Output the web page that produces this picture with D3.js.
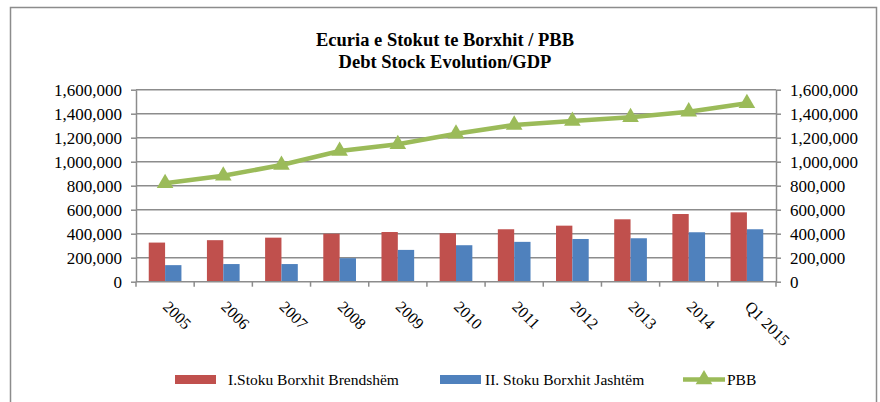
<!DOCTYPE html>
<html>
<head>
  <meta charset="UTF-8">
  <title>Debt Stock Evolution/GDP</title>
  <script src="https://d3js.org/d3.v7.min.js"></script>
  <style>
    body { margin: 0; background: #fff; }
    .grid line { stroke: #8c8c8c; stroke-width: 1.5; }
    .axis path, .axis line { stroke: #8c8c8c; stroke-width: 1.5; }
  </style>
</head>
<body>
  <svg id="chart" width="880" height="402"></svg>
  <script>
    const categories = ["2005", "2006", "2007", "2008", "2009", "2010", "2011", "2012", "2013", "2014", "Q1 2015"];
    const domestic = [326000, 346000, 367000, 400000, 414000, 404000, 437000, 467000, 520000, 564000, 578000];
    const external = [138000, 147000, 147000, 196000, 265000, 304000, 332000, 356000, 362000, 412000, 437000];
    const gdp = [820000, 883000, 972000, 1089000, 1145000, 1233000, 1306000, 1339000, 1370000, 1417000, 1487000];
    const yTicks = [0, 200000, 400000, 600000, 800000, 1000000, 1200000, 1400000, 1600000];

    const FONT = "'Liberation Serif', 'Times New Roman', Times, serif";
    const svg = d3.select("#chart");

    // outer frame
    svg.append("rect")
      .attr("x", 10.5).attr("y", 7.5)
      .attr("width", 866).attr("height", 420)
      .attr("fill", "none").attr("stroke", "#8c8c8c").attr("stroke-width", 1.5);

    const margin = { left: 136, right: 776, top: 89.7, bottom: 281.7 };

    const x = d3.scaleBand()
      .domain(categories)
      .range([margin.left, margin.right]);

    const x1 = d3.scaleBand()
      .domain(["dom", "ext"])
      .range([0, x.bandwidth()])
      .paddingInner(0)
      .paddingOuter(0.78);

    const y = d3.scaleLinear()
      .domain([0, 1600000])
      .range([margin.bottom, margin.top]);

    const fmt = d3.format(",");

    // gridlines
    svg.append("g").attr("class", "grid")
      .selectAll("line")
      .data(yTicks.slice(1))
      .join("line")
      .attr("x1", margin.left).attr("x2", margin.right)
      .attr("y1", d => y(d)).attr("y2", d => y(d));

    // left axis
    const yl = svg.append("g").attr("class", "axis")
      .attr("transform", `translate(${margin.left},0)`)
      .call(d3.axisLeft(y).tickValues(yTicks).tickFormat(fmt).tickSize(5).tickPadding(9).tickSizeOuter(0));

    // right axis
    const yr = svg.append("g").attr("class", "axis")
      .attr("transform", `translate(${margin.right},0)`)
      .call(d3.axisRight(y).tickValues(yTicks).tickFormat(fmt).tickSize(5).tickPadding(9).tickSizeOuter(0));

    [yl, yr].forEach(g => g.selectAll("text")
      .style("font-family", FONT).style("font-size", "17px").attr("fill", "#000"));

    // bars
    const groups = svg.append("g")
      .selectAll("g")
      .data(categories)
      .join("g")
      .attr("transform", d => `translate(${x(d)},0)`);

    groups.append("rect")
      .attr("x", x1("dom"))
      .attr("width", x1.bandwidth())
      .attr("y", (d, i) => y(domestic[i]))
      .attr("height", (d, i) => y(0) - y(domestic[i]))
      .attr("fill", "#C0504D");

    groups.append("rect")
      .attr("x", x1("ext"))
      .attr("width", x1.bandwidth())
      .attr("y", (d, i) => y(external[i]))
      .attr("height", (d, i) => y(0) - y(external[i]))
      .attr("fill", "#4F81BD");

    // x axis
    const xAxis = svg.append("g").attr("class", "axis")
      .attr("transform", `translate(0,${margin.bottom})`);
    xAxis.append("line")
      .attr("x1", margin.left).attr("x2", margin.right);
    xAxis.selectAll(".tk")
      .data(categories.concat(["end"]))
      .join("line")
      .attr("class", "tk")
      .attr("x1", (d, i) => margin.left + i * x.bandwidth())
      .attr("x2", (d, i) => margin.left + i * x.bandwidth())
      .attr("y1", 0).attr("y2", 5);
    xAxis.selectAll("text")
      .data(categories)
      .join("text")
      .attr("transform", d => `translate(${x(d) + x.bandwidth() / 2 + 1},${22}) rotate(45)`)
      .attr("text-anchor", "start")
      .attr("dy", "0.35em")
      .style("font-family", FONT)
      .style("font-size", "16px")
      .text(d => d);

    // GDP line
    const line = d3.line()
      .x((d, i) => x(categories[i]) + x.bandwidth() / 2)
      .y(d => y(d));

    svg.append("path")
      .datum(gdp)
      .attr("d", line)
      .attr("fill", "none")
      .attr("stroke", "#9BBB59")
      .attr("stroke-width", 4.5);

    const tri = d3.symbol().type(d3.symbolTriangle).size(120);
    svg.append("g")
      .selectAll("path")
      .data(gdp)
      .join("path")
      .attr("d", tri)
      .attr("transform", (d, i) => `translate(${x(categories[i]) + x.bandwidth() / 2},${y(d)})`)
      .attr("fill", "#9BBB59");

    // title
    const title = svg.append("text")
      .attr("text-anchor", "middle")
      .attr("font-weight", "bold")
      .style("font-family", FONT)
      .style("font-size", "18.5px")
      .attr("fill", "#000");
    title.append("tspan").attr("x", 445).attr("y", 46).text("Ecuria e Stokut te Borxhit / PBB");
    title.append("tspan").attr("x", 445).attr("y", 68).text("Debt Stock Evolution/GDP");

    // legend
    const legend = svg.append("g").style("font-family", FONT).style("font-size", "15.5px");
    legend.append("rect").attr("x", 175).attr("y", 375).attr("width", 41).attr("height", 9).attr("fill", "#C0504D");
    legend.append("text").attr("x", 228).attr("y", 385).text("I.Stoku Borxhit Brendshëm");
    legend.append("rect").attr("x", 440).attr("y", 375).attr("width", 41).attr("height", 9).attr("fill", "#4F81BD");
    legend.append("text").attr("x", 485).attr("y", 385).text("II. Stoku Borxhit Jashtëm");
    legend.append("line").attr("x1", 683).attr("x2", 725).attr("y1", 379.5).attr("y2", 379.5)
      .attr("stroke", "#9BBB59").attr("stroke-width", 4.5);
    legend.append("path").attr("d", tri).attr("transform", "translate(704,379.5)").attr("fill", "#9BBB59");
    legend.append("text").attr("x", 727).attr("y", 385).text("PBB");
  </script>
</body>
</html>
